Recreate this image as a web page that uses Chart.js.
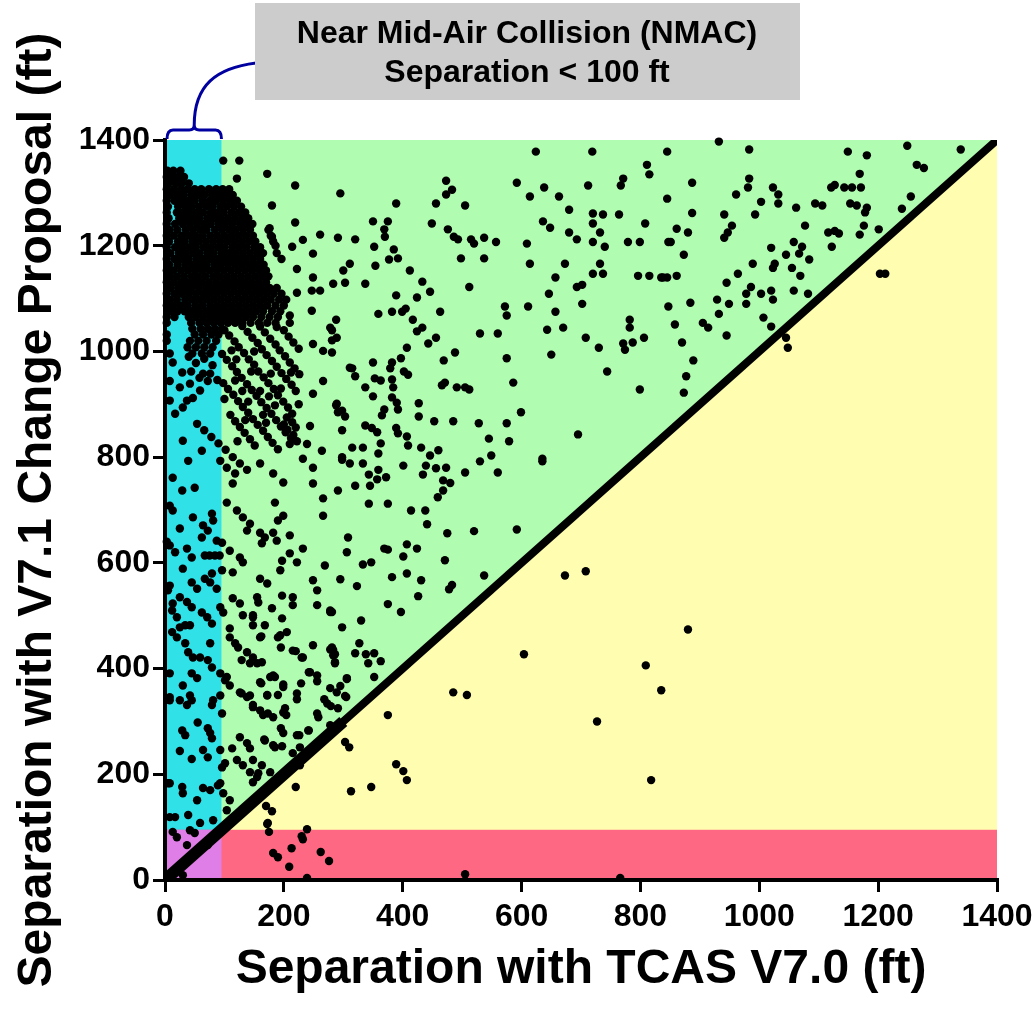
<!DOCTYPE html>
<html>
<head>
<meta charset="utf-8">
<script src="https://cdn.jsdelivr.net/npm/chart.js@4.4.1/dist/chart.umd.min.js"></script>
<style>
  html, body { margin: 0; padding: 0; background: #fff; }
  canvas { display: block; }
</style>
</head>
<body>
<canvas id="sepChart" width="1036" height="1011"></canvas>
<script>
// separations in ft
const axisMax = 1400;
const tickStep = 200;
const nmacLimit = 95; // band in the original stops just short of the 100 ft mark

// y = x reference (same separation with both versions)
const diagonal = [0, axisMax];
const diagonalDense = [0, 300];

// dense cluster top left, one row per V7.1 separation: [y, [x...]]
const denseRows = [
  [1342, [4, 14, 26]],
  [1330, [3, 12, 22, 32]],
  [1318, [6, 18, 28, 40]],
  [1307, [3, 15, 27, 38, 50, 61, 74, 86, 97, 108]],
  [1296, [8, 20, 31, 44, 55, 66, 79, 90, 102, 114]],
  [1285, [3, 16, 28, 39, 50, 63, 75, 86, 98, 110, 121]],
  [1274, [5, 22, 34, 45, 57, 69, 80, 93, 104, 116, 128]],
  [1263, [3, 20, 30, 41, 53, 64, 77, 88, 99, 112, 124, 135]],
  [1252, [6, 24, 36, 48, 58, 71, 83, 94, 106, 118, 130, 140]],
  [1241, [3, 17, 30, 42, 54, 66, 77, 90, 101, 113, 126, 137, 147]],
  [1230, [8, 21, 35, 47, 59, 70, 84, 96, 108, 119, 131, 143, 174]],
  [1219, [3, 15, 28, 40, 51, 63, 76, 88, 100, 112, 124, 136, 148, 178]],
  [1208, [7, 22, 33, 46, 57, 69, 81, 93, 105, 117, 129, 141, 152, 182]],
  [1197, [3, 17, 29, 41, 52, 65, 77, 89, 100, 113, 125, 137, 150, 160]],
  [1186, [9, 23, 35, 47, 58, 71, 82, 95, 107, 119, 131, 143, 155, 165, 188]],
  [1175, [3, 16, 28, 40, 53, 64, 76, 88, 100, 112, 124, 136, 148, 160, 196]],
  [1164, [7, 21, 34, 46, 58, 70, 83, 94, 106, 118, 130, 142, 154, 166]],
  [1153, [3, 14, 27, 39, 51, 63, 75, 87, 99, 111, 123, 135, 147, 159, 170]],
  [1142, [8, 20, 32, 45, 56, 68, 81, 92, 104, 116, 128, 140, 152, 164, 174]],
  [1131, [3, 15, 27, 38, 50, 62, 74, 86, 98, 110, 122, 134, 146, 158, 170]],
  [1120, [9, 22, 33, 44, 57, 69, 80, 92, 104, 116, 128, 140, 152, 164, 176, 188]],
  [1109, [3, 16, 28, 40, 52, 64, 75, 87, 99, 111, 123, 135, 147, 159, 171, 183, 196]],
  [1098, [8, 20, 34, 46, 58, 70, 82, 94, 106, 118, 130, 142, 154, 166, 178, 192, 204]],
  [1087, [3, 14, 26, 38, 51, 63, 76, 88, 100, 112, 124, 136, 148, 160, 172, 186, 200]],
  [1076, [9, 21, 33, 45, 57, 69, 81, 93, 105, 117, 129, 141, 153, 165, 180, 194]],
  [1065, [3, 16, 40, 52, 64, 76, 88, 100, 112, 124, 136, 148, 162, 176, 190]],
  [1054, [3, 44, 58, 70, 82, 94, 106, 118, 130, 144, 158, 172, 186, 210]],
  [1043, [46, 60, 72, 84, 96]],
  [1032, [3, 50, 64, 78, 90]],
  [1020, [3, 42, 56, 70, 86]],
  [1008, [38, 52, 66, 80]],
  [996, [8, 46, 62, 76]]
];

// streaks of encounters running down and right under the cluster: [x, y]
const streakPts = [
  [100,1040],[108,1030],[117,1019],[124,1008],[133,997],[141,985],[150,975],[157,962],[166,951],
  [174,940],[183,929],[190,917],[199,905],[207,894],[214,882],
  [130,1048],[139,1037],[147,1026],[156,1016],[163,1004],[171,993],[180,982],[188,971],[196,959],
  [204,948],[213,937],[220,925],
  [160,1047],[168,1036],[177,1024],[186,1013],[193,1002],[202,991],[210,979],[218,968],[226,957],
  [96,995],[104,984],[113,972],[121,961],[129,950],[138,938],[146,927],[154,916],[162,904],[171,893],
  [179,882],[187,870],[195,858],[203,847],[212,836],
  [98,940],[106,929],[115,918],[123,906],[131,895],[140,884],[148,872],[156,861],[165,850],[173,838],
  [181,827],[190,815],
  [200,1040],[208,1028],[216,1017],[225,1005],
  [110,880],[118,868],[126,857],[134,846],[143,834],[151,822],
  [205,875],[214,866],[220,856],[206,852],[216,842],[222,830],[210,825],[200,862],
  [188,1046],[120,985],[150,1000],[175,915],[130,925],[195,930],[165,880],[140,905],[225,900],[212,960],
  [112,1002],[145,962],[178,958],[118,945],[160,925],[100,910],[135,870],[185,898],[170,865],[122,830]
];

// TCAS V7.0 separation below 100 ft: [x, y]
const nmacPts = [
  [13,979],[29,960],[8,944],[25,932],[8,907],[30,894],[17,882],[37,907],[47,912],[42,939],[59,926],[72,944],[64,958],
  [40,990],[52,978],[66,986],[80,974],[44,962],[58,950],[76,958],[88,946],
  [54,863],[66,851],[78,838],[90,826],
  [39,793],[30,831],[62,812],[50,742],[29,737],[13,761],
  [8,708],[13,699],[47,686],[64,671],[25,665],[79,693],[81,680],[72,661],[62,648],[87,642],[96,638],
  [8,633],[17,620],[37,627],[45,610],[67,614],[75,614],[84,614],[92,614],[3,640],
  [30,589],[67,570],[79,580],[76,563],[45,563],[54,551],[87,551],[8,557],[5,548],[25,535],[37,526],[45,516],
  [13,523],[12,510],[20,497],[62,506],[71,497],[79,485],[93,516],[98,506],[34,482],[25,478],[42,482],
  [20,459],[34,448],[39,431],[47,421],[59,421],[72,416],[76,448],[79,402],[45,391],[54,382],[30,368],
  [8,391],[8,346],[42,349],[93,391],[12,469],
  [8,340],[25,340],[45,340],[37,331],[79,331],[81,340],[93,349],[55,298],[96,315],[29,283],[34,274],
  [72,287],[76,278],[79,268],[25,244],[45,229],[64,246],[72,232],[93,246],[96,213],[8,183],[29,176],
  [30,164],[64,174],[76,170],[93,183],
  [5,183],[89,179],[98,164],[54,151],[8,119],[17,119],[39,123],[59,108],[81,113],
  [13,91],[20,81],[42,94],[50,89],[37,66],[54,57],[72,66],[30,9]
];

// above the diagonal, V7.0 separation of 100 ft or more
const greenPts = [
  [98,1361],[125,1361],[121,1327],[172,1336],[219,1314],[295,1299],[180,1276],[219,1244],[261,1221],
  [214,1198],[232,1211],[249,1185],[249,1140],[222,1156],[222,1111],[247,1115],[261,1115],[247,1077],
  [210,1068],[176,1233],[180,1217],[186,1200],[283,1128],
  [624,1378],[719,1378],[845,1378],[811,1353],[815,1335],[473,1323],[483,1306],[473,1297],[592,1319],
  [638,1310],[614,1293],[663,1293],[712,1314],[771,1327],[767,1314],[845,1289],[389,1280],[456,1280],
  [505,1276],[680,1268],[720,1261],[737,1259],[764,1259],[720,1242],[808,1242],[350,1246],[375,1246],
  [449,1242],[636,1246],[648,1234],[369,1231],[370,1217],[476,1231],[486,1217],[493,1212],[291,1215],
  [320,1212],[515,1212],[520,1204],[537,1215],[557,1207],[609,1204],[680,1225],[693,1212],[720,1207],
  [732,1225],[740,1198],[779,1207],[799,1207],[847,1207],[352,1198],[385,1193],[377,1174],[392,1176],
  [498,1176],[537,1176],[614,1166],[673,1166],[732,1166],[720,1147],[737,1147],[354,1162],[311,1166],
  [300,1153],[303,1130],[412,1153],[337,1128],[433,1132],[446,1113],[512,1122],[657,1140],[693,1122],
  [702,1126],[646,1109],[796,1143],[815,1143],[835,1140],[845,1140],[389,1106],[424,1102],[572,1085],
  [575,1068],[611,1085],[702,1090],[657,1075],[847,1085],[359,1071],[382,1075],[399,1075],[405,1081],
  [463,1075],[288,1060],[417,1060],[433,1045],[424,1038],[530,1034],[560,1034],[643,1041],[670,1045],
  [782,1060],[782,1045],[806,1026],[787,1017],[771,1015],[774,1003],[730,1007],[708,1026],[456,1026],
  [443,1015],[407,1007],[281,1040],[281,1021],[281,998],[488,998],[469,983],[575,987],[650,994],
  [744,962],[799,928],[350,979],[382,979],[397,987],[379,968],[315,968],[320,953],[402,962],[409,956],
  [353,949],[363,945],[382,947],[384,932],[337,932],[350,915],[466,936],[471,941],[491,932],[505,932],
  [512,928],[586,941],[382,913],[390,903],[392,890],[427,902],[288,898],[291,885],[303,877],[369,890],
  [365,879],[427,877],[599,885],[453,868],[485,868],[528,864],[575,864],[337,860],[348,855],[357,847],
  [298,851],[389,855],[392,845],[407,839],[409,822],[363,826],[315,818],[333,818],[359,807],[431,818],
  [460,813],[446,803],[545,835],[579,830],[695,843],[549,803],[635,797],[298,800],
  [932,1397],[983,1382],[1149,1378],[1181,1371],[1249,1389],[1339,1382],[1265,1353],[1277,1347],
  [1169,1336],[887,1319],[983,1327],[981,1310],[1023,1310],[1032,1297],[1032,1280],[961,1297],
  [1003,1283],[1121,1310],[1127,1315],[1143,1310],[1156,1310],[1171,1310],[887,1262],[941,1259],
  [993,1259],[1062,1272],[1094,1280],[1106,1276],[1153,1280],[1164,1276],[1181,1272],[1178,1263],
  [1255,1293],[1240,1270],[861,1232],[880,1225],[851,1207],[954,1238],[947,1225],[941,1215],
  [1077,1238],[1116,1225],[1127,1228],[1134,1223],[1176,1238],[1169,1221],[1201,1231],[1122,1198],
  [873,1183],[1020,1196],[1058,1207],[1072,1198],[1045,1183],[1067,1185],[1084,1174],[838,1140],
  [861,1143],[989,1166],[1026,1166],[1023,1158],[1055,1158],[1069,1143],[964,1147],[945,1130],
  [986,1122],[978,1109],[1003,1109],[1020,1115],[1023,1098],[1058,1115],[1082,1109],[884,1092],
  [929,1098],[949,1090],[978,1090],[932,1071],[905,1054],[914,1045],[858,1051],[1007,1064],
  [1020,1047],[945,1030],[870,1017],[889,983],[877,953],[873,922],
  [298,795],[311,788],[333,788],[359,776],[343,767],[357,758],[372,762],[345,746],[320,746],[291,737],
  [401,784],[434,767],[439,784],[456,779],[473,780],[468,756],[480,751],[468,737],[459,724],[505,771],
  [530,792],[560,771],[635,792],[343,712],[375,712],[414,699],[438,699],[441,673],[475,656],[520,660],
  [592,663],[308,648],[306,620],[369,627],[375,625],[407,635],[424,627],[401,612],[471,605],[333,597],
  [347,601],[295,569],[323,556],[382,573],[407,580],[431,567],[426,537],[483,558],[478,550],[537,576],
  [375,522],[397,507],[330,491],[298,478],[281,507],[327,448],[320,429],[338,427],[342,410],[352,429],
  [363,414],[283,435],[286,412],[352,384],[306,380],[295,367],[303,348],
  [180,514],[215,520],[256,520],[278,507],[148,501],[168,482],[197,495],[205,469],[190,459],[195,440],
  [162,461],[249,444],[220,433],[230,421],[278,436],[286,427],[148,421],[163,412],[242,393],[177,384],
  [185,384],[199,370],[229,372],[256,376],[278,363],[306,382],[162,372],[172,350],[190,350],[222,342],
  [268,342],[279,329],[291,325],[305,346],[148,327],[165,312],[182,308],[202,325],[204,312],[258,308],
  [242,283],[226,274],[195,287],[199,278],[167,266],[182,255],[197,253],[278,293],[227,251],[215,240],
  [227,217],[148,227],[163,217],[177,204],[157,202],[148,185],
  [104,714],[121,699],[131,686],[143,674],[138,661],[160,657],[168,648],[182,657],[190,680],[199,689],
  [185,714],[210,652],[188,642],[163,637],[109,623],[126,610],[131,601],[114,582],[96,586],[160,570],
  [172,561],[194,586],[197,604],[210,618],[222,601],[232,627],[266,689],[249,567],[256,548],[269,595],
  [114,533],[126,523],[155,535],[157,525],[197,538],[215,535],[278,510],[131,501],[148,497],[148,482],
  [194,463],[160,459],[109,476],[109,459],[118,448],[123,440],[138,431],[155,410],[143,410],[129,416],
  [215,434],[232,421],[244,393],[281,440],[286,410],[283,425],[182,387],[160,374],[256,387],[104,384],
  [126,355],[143,349],
  [109,368],[129,353],[138,346],[148,331],[160,321],[173,315],[126,270],[138,259],[143,249],[113,249],
  [101,221],[121,227],[131,217],[143,204],[155,195],[168,264],[185,251],[172,349],[199,317],[222,353],
  [241,283],[222,274],[256,315],[273,334],[289,355],[199,365],[104,132],[109,151],[101,378],
  [278,1045],[289,1026],[249,1014],[266,1001],[311,969],[266,944],[249,920],[289,901],[298,888],
  [244,859],[239,825],[264,812],[249,780],[249,750],[266,722],[232,797],[199,752],[182,769],[160,788],
  [114,750],[93,793],[104,780],[118,769],[102,814],[114,800],[126,788],[138,776]
];

// below the diagonal (V7.1 worse) and the red NMAC band
const belowPts = [
  [1045,1026],[1048,1007],[1203,1147],[1212,1147],[673,576],[708,584],[604,427],[809,406],[835,359],
  [485,355],[508,350],[880,474],[375,312],[727,300],[303,261],[310,251],[389,219],[401,206],[407,189],
  [818,189],[313,168],[347,176],[220,176],[170,140],[180,130],[172,106],[175,91],[239,96],[230,83],
  [232,77],[213,60],[182,51],[190,43],[262,53],[276,36],[209,25],[239,4],[505,11],[766,4],[173,108]
];

const fromRows = rows => rows.flatMap(([y, xs]) => xs.map(x => ({ x, y })));
const fromPairs = pts => pts.map(([x, y]) => ({ x, y }));

const encounters = [
  ...fromRows(denseRows),
  ...fromPairs(streakPts),
  ...fromPairs(nmacPts),
  ...fromPairs(greenPts),
  ...fromPairs(belowPts)
];

const tickFont = { family: "'Liberation Sans', Arial, sans-serif", size: 32, weight: 'bold' };
const titleFont = { family: "'Liberation Sans', Arial, sans-serif", size: 48, weight: 'bold' };
const axisGrid = { drawOnChartArea: false, drawTicks: true, tickLength: 12, lineWidth: 3, color: '#000' };
const axisBorder = { display: true, color: '#000', width: 4 };
const plainTick = v => String(v);

// coloured zones behind the points
const zones = {
  id: 'zones',
  beforeDraw(chart) {
    const { ctx, scales: { x, y } } = chart;
    const X = v => x.getPixelForValue(v);
    const Y = v => y.getPixelForValue(v);
    ctx.save();
    ctx.fillStyle = '#b0fcb0';
    ctx.beginPath();
    ctx.moveTo(X(0), Y(0)); ctx.lineTo(X(0), Y(axisMax)); ctx.lineTo(X(axisMax), Y(axisMax));
    ctx.closePath(); ctx.fill();
    ctx.fillStyle = '#fffdb0';
    ctx.beginPath();
    ctx.moveTo(X(0), Y(0)); ctx.lineTo(X(axisMax), Y(0)); ctx.lineTo(X(axisMax), Y(axisMax));
    ctx.closePath(); ctx.fill();
    ctx.fillStyle = '#30e2e8';
    ctx.fillRect(X(0), Y(axisMax), X(nmacLimit) - X(0), Y(0) - Y(axisMax));
    ctx.fillStyle = '#ff6882';
    ctx.fillRect(X(0), Y(nmacLimit), X(axisMax) - X(0), Y(0) - Y(nmacLimit));
    ctx.fillStyle = '#e07ee8';
    ctx.fillRect(X(0), Y(nmacLimit), X(nmacLimit) - X(0), Y(0) - Y(nmacLimit));
    ctx.restore();
  }
};

// NMAC call-out: grey box with a brace over the cyan band
const callout = {
  id: 'callout',
  afterDraw(chart) {
    const { ctx, scales: { x, y } } = chart;
    const left = x.getPixelForValue(0) + 2;
    const right = x.getPixelForValue(nmacLimit);
    const top = y.getPixelForValue(axisMax);
    const mid = (left + right) / 2;
    ctx.save();
    ctx.strokeStyle = '#0000a0';
    ctx.lineWidth = 3;
    ctx.beginPath();
    ctx.moveTo(left, top - 1);
    ctx.quadraticCurveTo(left, top - 10, left + 6, top - 10);
    ctx.lineTo(mid - 5, top - 10);
    ctx.quadraticCurveTo(mid, top - 10, mid, top - 15);
    ctx.quadraticCurveTo(mid, top - 10, mid + 5, top - 10);
    ctx.lineTo(right - 6, top - 10);
    ctx.quadraticCurveTo(right, top - 10, right, top - 1);
    ctx.moveTo(mid, top - 15);
    ctx.bezierCurveTo(mid, 85, mid + 22, 68, 256, 63);
    ctx.stroke();

    ctx.fillStyle = '#cccccc';
    ctx.fillRect(255, 3, 545, 97);
    ctx.fillStyle = '#000';
    ctx.font = "bold 32px 'Liberation Sans', Arial, sans-serif";
    ctx.textAlign = 'center';
    ctx.textBaseline = 'middle';
    ctx.fillText('Near Mid-Air Collision (NMAC)', 527, 34);
    ctx.fillText('Separation < 100 ft', 527, 73);
    ctx.restore();
  }
};

new Chart(document.getElementById('sepChart'), {
  type: 'scatter',
  data: {
    datasets: [
      {
        data: encounters,
        pointRadius: 4.2,
        pointStyle: 'circle',
        backgroundColor: '#000',
        borderWidth: 0,
        clip: 4
      },
      {
        type: 'line',
        data: diagonal.map(v => ({ x: v, y: v })),
        borderColor: '#000',
        borderWidth: 8,
        pointRadius: 0,
        clip: 0
      },
      {
        type: 'line',
        data: diagonalDense.map(v => ({ x: v, y: v })),
        borderColor: '#000',
        borderWidth: 12,
        pointRadius: 0,
        clip: 0
      }
    ]
  },
  options: {
    responsive: false,
    animation: false,
    events: [],
    layout: { padding: { top: 140, right: 39, left: 0, bottom: 0 } },
    plugins: {
      legend: { display: false },
      tooltip: { enabled: false }
    },
    scales: {
      x: {
        type: 'linear',
        min: 0,
        max: axisMax,
        ticks: { stepSize: tickStep, color: '#000', font: tickFont, padding: 6, maxRotation: 0, callback: plainTick },
        grid: axisGrid,
        border: axisBorder,
        title: {
          display: true,
          text: 'Separation with TCAS V7.0 (ft)',
          color: '#000',
          font: titleFont,
          padding: { top: 0, bottom: 12 }
        },
        afterFit(scale) {
          scale.height = 131;
          scale.paddingLeft = 0;
          scale.paddingRight = 0;
        }
      },
      y: {
        type: 'linear',
        min: 0,
        max: axisMax,
        ticks: { stepSize: tickStep, color: '#000', font: tickFont, padding: 3, callback: plainTick },
        grid: axisGrid,
        border: axisBorder,
        title: {
          display: true,
          text: 'Separation with V7.1 Change Proposal (ft)',
          color: '#000',
          font: titleFont,
          padding: { top: 9, bottom: 0 }
        },
        afterFit(scale) { scale.width = 165; }
      }
    }
  },
  plugins: [zones, callout]
});
</script>
</body>
</html>
